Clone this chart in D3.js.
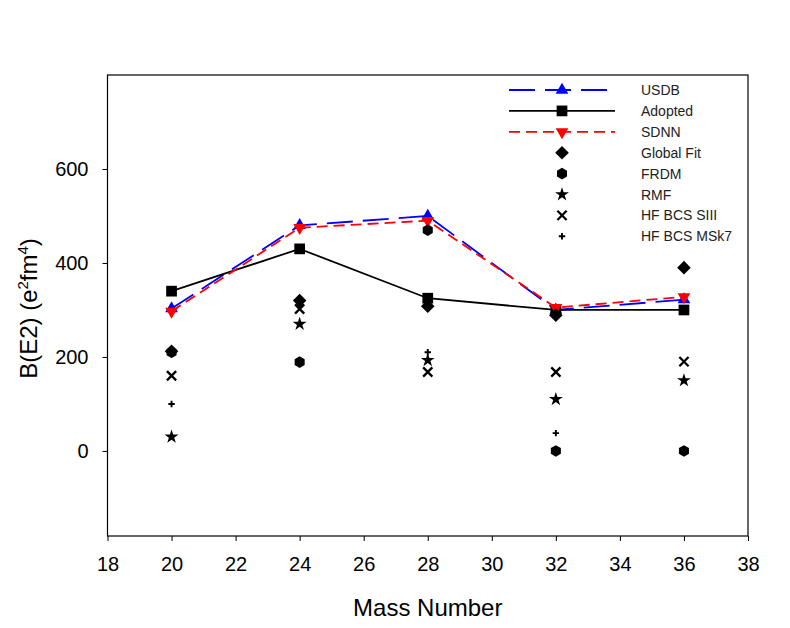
<!DOCTYPE html>
<html><head><meta charset="utf-8">
<script src="https://cdn.jsdelivr.net/npm/d3@7"></script>
<style>body{margin:0;background:#fff}svg{display:block}text{font-family:"Liberation Sans",Arial,sans-serif}</style>
</head><body><svg id="c" width="790" height="628"></svg>
<script>
const massNumbers = [20, 24, 28, 32, 36];
const usdb      = [303, 480, 500, 300, 322];
const adopted   = [340, 430, 325, 300, 300];
const sdnn      = [297, 475, 490, 305, 328];
const globalFit = [212, 320, 308, 289, 390];
const frdm      = [210, 189, 470, 0, 0];
const rmf       = [30, 270, 193, 110, 150];
const hfSIII    = [160, 302, 168, 168, 190];
const hfMSk7    = [100, 310, 210, 38, null];
const xTicks = [18, 20, 22, 24, 26, 28, 30, 32, 34, 36, 38];
const yTicks = [0, 200, 400, 600];

const svg = d3.select("#c");
const L = 107.5, R = 748, T = 75, B = 536;
const x = d3.scaleLinear().domain([18, 38]).range([L, R]);
const y = d3.scaleLinear().domain([-181, 800]).range([B, T]);

svg.append("rect").attr("x", L).attr("y", T).attr("width", R - L).attr("height", B - T)
  .attr("fill", "none").attr("stroke", "#000").attr("stroke-width", 1.2);

const xAxis = svg.append("g").attr("transform", `translate(0,${B})`)
  .call(d3.axisBottom(x).tickValues(xTicks).tickSize(5).tickPadding(16).tickFormat(d3.format("d")));
const yAxis = svg.append("g").attr("transform", `translate(${L},0)`)
  .call(d3.axisLeft(y).tickValues(yTicks).tickSize(5).tickPadding(14).tickFormat(d3.format("d")));
[xAxis, yAxis].forEach(g => {
  g.select(".domain").remove();
  g.selectAll("line").attr("stroke", "#000").attr("stroke-width", 1);
  g.selectAll("text").style("font-size", "20px").attr("fill", "#000").style("font-family", '"Liberation Sans",Arial,sans-serif');
});

svg.append("text").attr("x", (L + R) / 2).attr("y", 616).attr("text-anchor", "middle")
  .style("font-size", "24px").text("Mass Number");
const yl = svg.append("text").attr("transform", `translate(37,${(T + B) / 2 + 3}) rotate(-90)`)
  .attr("text-anchor", "middle").style("font-size", "24px");
yl.append("tspan").text("B(E2) (e");
yl.append("tspan").style("font-size", "15px").attr("dy", -9).text("2");
yl.append("tspan").attr("dy", 9).text("fm");
yl.append("tspan").style("font-size", "15px").attr("dy", -9).text("4");
yl.append("tspan").attr("dy", 9).text(")");

const S = d3.symbol();
const shapes = {
  triUp: S.type(d3.symbolTriangle).size(70)(),
  triDown: S.type(d3.symbolTriangle).size(70)(),
  square: S.type(d3.symbolSquare).size(115)(),
  diamond: "M0,-6.8L6.8,0L0,6.8L-6.8,0Z",
  hex: d3.range(6).map(i => { const a = Math.PI / 6 + i * Math.PI / 3; return [5.8 * Math.cos(a), 5.8 * Math.sin(a)]; }).map((p, i) => (i ? "L" : "M") + p[0].toFixed(2) + "," + p[1].toFixed(2)).join("") + "Z",
  star: S.type(d3.symbolStar).size(60)(),
  cross: "M-4.6,-4.6L4.6,4.6M-4.6,4.6L4.6,-4.6",
  plus: "M-3.2,0L3.2,0M0,-3.2L0,3.2"
};

const series = [
  {name: "USDB", vals: usdb, color: "#0000ff", dash: "26,10", shape: "triUp", rot: 0, line: true},
  {name: "Adopted", vals: adopted, color: "#000", dash: null, shape: "square", rot: 0, line: true},
  {name: "SDNN", vals: sdnn, color: "#ff0000", dash: "11,6", shape: "triDown", rot: 180, line: true},
  {name: "Global Fit", vals: globalFit, color: "#000", shape: "diamond", rot: 0},
  {name: "FRDM", vals: frdm, color: "#000", shape: "hex", rot: 0},
  {name: "RMF", vals: rmf, color: "#000", shape: "star", rot: 0},
  {name: "HF BCS SIII", vals: hfSIII, color: "#000", shape: "cross", rot: 0, stroke: true},
  {name: "HF BCS MSk7", vals: hfMSk7, color: "#000", shape: "plus", rot: 0, stroke: true}
];

function drawMark(g, s, cx, cy) {
  const p = g.append("path").attr("d", shapes[s.shape])
    .attr("transform", `translate(${cx},${cy}) rotate(${s.rot})`);
  if (s.stroke) p.attr("fill", "none").attr("stroke", s.color).attr("stroke-width", s.shape === "cross" ? 2.3 : 1.9);
  else p.attr("fill", s.color);
}

const line = d3.line().defined(d => d[1] != null).x(d => x(d[0])).y(d => y(d[1]));
const plot = svg.append("g");
series.filter(s => s.line).forEach(s => {
  plot.append("path").attr("d", line(massNumbers.map((m, i) => [m, s.vals[i]])))
    .attr("fill", "none").attr("stroke", s.color).attr("stroke-width", 1.8)
    .attr("stroke-dasharray", s.dash);
  massNumbers.forEach((m, i) => { if (s.vals[i] != null) drawMark(plot, s, x(m), y(s.vals[i])); });
});
series.filter(s => !s.line).forEach(s => {
  massNumbers.forEach((m, i) => { if (s.vals[i] != null) drawMark(plot, s, x(m), y(s.vals[i])); });
});

const lg = svg.append("g");
series.forEach((s, i) => {
  const ry = 90 + i * 20.9;
  if (s.line) {
    lg.append("line").attr("x1", 509).attr("x2", 615).attr("y1", ry).attr("y2", ry)
      .attr("stroke", s.color).attr("stroke-width", 1.8).attr("stroke-dasharray", s.dash);
  }
  drawMark(lg, s, 562, ry);
  lg.append("text").attr("x", 641).attr("y", ry + 5).style("font-size", "14px").attr("fill", "#222").text(s.name);
});
</script></body></html>
